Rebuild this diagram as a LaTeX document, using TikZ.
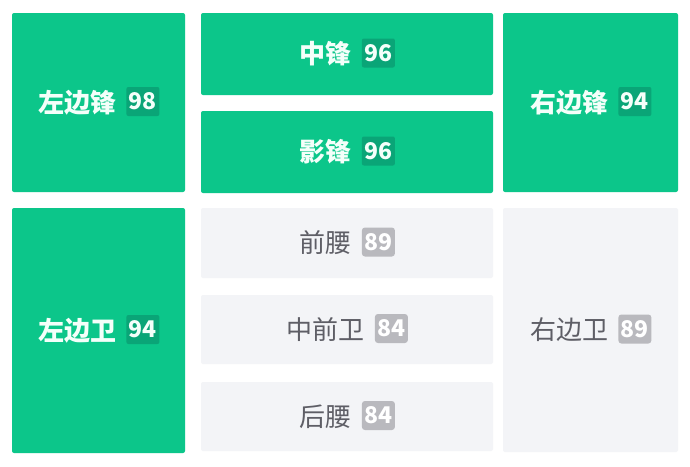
\documentclass[tikz,border=0pt]{standalone}
\usepackage{fontspec}
\setmainfont{Noto Sans CJK SC}
\definecolor{pgreen}{HTML}{0CC68A}
\definecolor{bgreen}{HTML}{0AA577}
\definecolor{pgray}{HTML}{F3F4F7}
\definecolor{bgray}{HTML}{B9B9BE}
\definecolor{tgray}{HTML}{5E5E66}
\definecolor{twhite}{HTML}{F4FFFA}
\tikzset{
  gbox/.style={fill=pgreen, rounded corners=2pt, draw=none},
  wbox/.style={fill=pgray, rounded corners=2pt, draw=none},
  glabel/.style={inner sep=0pt, text=twhite, font=\fontsize{26}{26}\selectfont\bfseries},
  wlabel/.style={inner sep=0pt, text=tgray, font=\fontsize{26}{26}\selectfont},
  gbadge/.style={fill=bgreen, rounded corners=2pt, text=twhite, inner sep=0pt, minimum width=33pt, minimum height=29pt, font=\fontsize{23}{23}\selectfont\bfseries},
  wbadge/.style={fill=bgray, rounded corners=3pt, text=white, inner sep=0pt, minimum width=33pt, minimum height=29pt, font=\fontsize{23}{23}\selectfont\bfseries},
}
% #1 name, #2 x1, #3 y1, #4 x2, #5 y2, #6 kind (g/w), #7 label, #8 number
\newcommand\posbox[8]{%
  \path[#6box] (#2,#3) rectangle (#4,#5);
  \coordinate (#1c) at ({(#2+#4)/2},{(#3+#5)/2});
  \node[#6label] (#1t) at ([xshift=-21.5pt]#1c) {#7};
  \node[#6badge, anchor=west] (#1b) at ([xshift=10pt,yshift=1pt]#1t.east) {#8};
}
\begin{document}
\begin{tikzpicture}[x=1pt,y=-1pt]
\useasboundingbox (0,0) rectangle (690,466);
\fill[white] (0,0) rectangle (690,466);
\posbox{lw}{12}{13}{185}{192}{g}{左边锋}{98}
\posbox{cf}{201}{13}{493}{95}{g}{中锋}{96}
\posbox{ss}{201}{111}{493}{193}{g}{影锋}{96}
\posbox{rw}{503}{13}{678}{192}{g}{右边锋}{94}
\posbox{lb}{12}{208}{185}{453}{g}{左边卫}{94}
\posbox{am}{201}{208}{493}{278}{w}{前腰}{89}
\posbox{cm}{201}{295}{493}{364}{w}{中前卫}{84}
\posbox{dm}{201}{382}{493}{451}{w}{后腰}{84}
\posbox{rb}{503}{208}{678}{452}{w}{右边卫}{89}
\end{tikzpicture}
\end{document}
